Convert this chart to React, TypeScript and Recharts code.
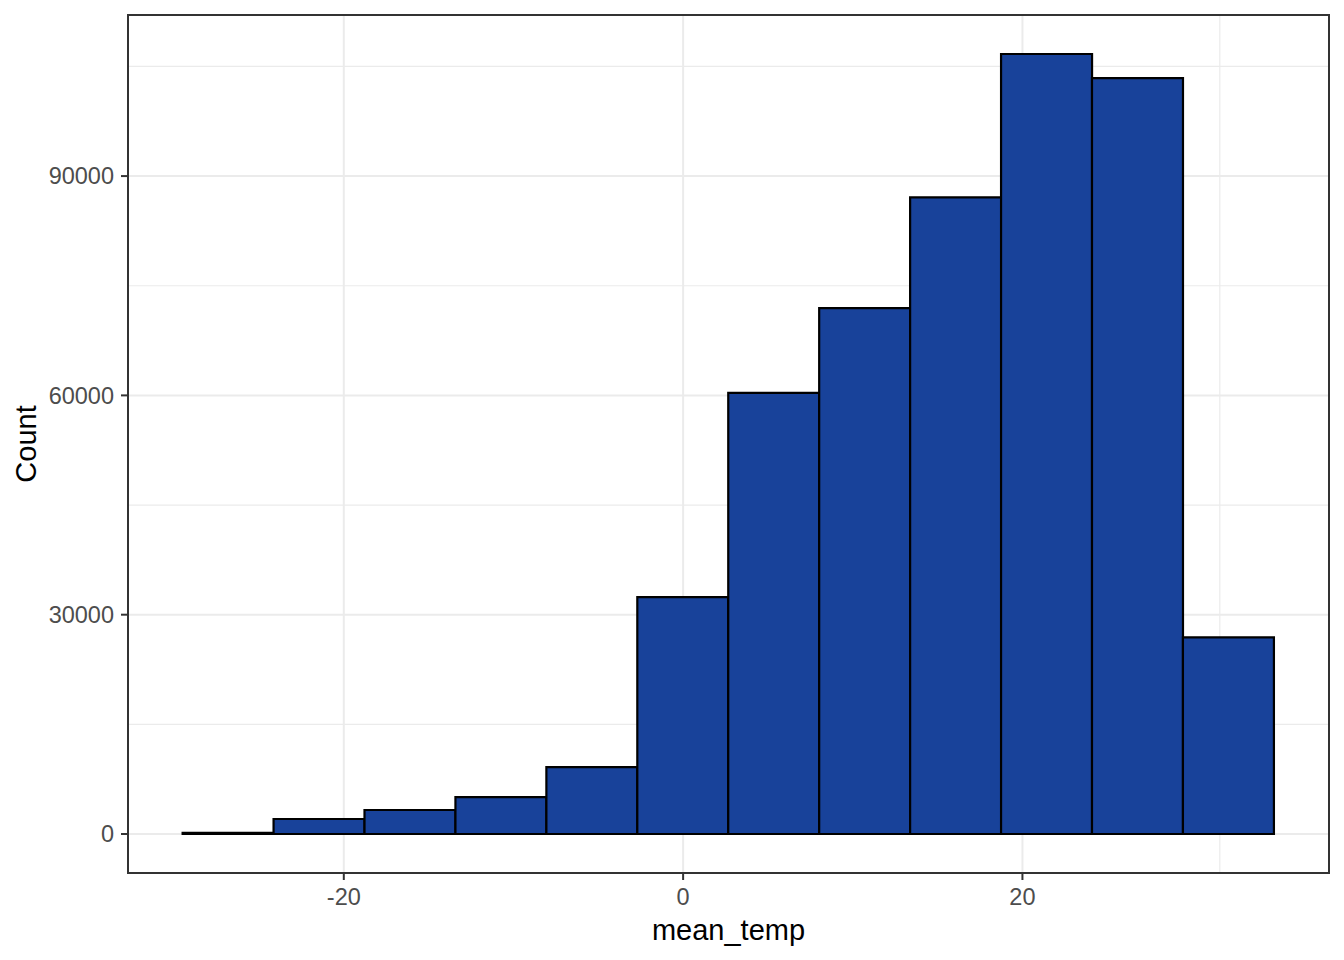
import React from 'react';
import {
  ComposedChart,
  Bar,
  XAxis,
  YAxis,
  CartesianGrid,
  ReferenceArea,
} from 'recharts';

// histogram bins (centres) and counts
const binCenters = [-26.82, -21.46, -16.1, -10.74, -5.38, -0.02, 5.34, 10.7, 16.06, 21.42, 26.78, 32.14];
const counts = [150, 2050, 3280, 5050, 9150, 32400, 60350, 71950, 87100, 106700, 103400, 26900];

const xTicks = [-20, 0, 20];
const xMinor = [-30, -10, 10, 30];
const yTicks = [0, 30000, 60000, 90000];
const yMinor = [15000, 45000, 75000, 105000];

const xDomain = [-32.72, 38.07];
const yDomain = [-5335, 112035];

const data = binCenters.map((x, i) => ({ x, count: counts[i] }));

const FONT = '"Liberation Sans", Arial, sans-serif';
const tickStyle = { fill: '#4D4D4D', fontSize: 23.5, fontFamily: FONT };
const tickLine = { stroke: '#333333', strokeWidth: 2 };

const App: React.FC = () => {
  return (
    <div style={{ position: 'absolute', left: 0, top: 0, width: 1344, height: 960, background: '#fff' }}>
      <ComposedChart
        width={1344}
        height={960}
        data={data}
        margin={{ top: 15, right: 15, left: 0, bottom: 0 }}
        barCategoryGap={0}
        barGap={0}
        style={{ fontFamily: FONT }}
      >
        <XAxis
          xAxisId="x"
          dataKey="x"
          type="number"
          domain={xDomain}
          allowDataOverflow
          ticks={xTicks}
          height={87}
          tick={tickStyle}
          tickLine={tickLine}
          tickSize={7}
          tickMargin={8}
          axisLine={false}
          label={{ value: 'mean_temp', position: 'insideBottom', offset: 20, fill: '#000', fontSize: 29, fontFamily: FONT }}
        />
        {/* hidden axis only used for the minor grid lines */}
        <XAxis
          xAxisId="minor"
          orientation="top"
          type="number"
          domain={xDomain}
          allowDataOverflow
          ticks={xMinor}
          height={0}
          hide
        />
        <YAxis
          yAxisId="y"
          type="number"
          domain={yDomain}
          allowDataOverflow
          ticks={yTicks}
          width={128}
          tick={tickStyle}
          tickLine={tickLine}
          tickSize={7}
          tickMargin={7}
          axisLine={false}
          label={{ value: 'Count', angle: -90, position: 'insideLeft', offset: 26, fill: '#000', fontSize: 29, fontFamily: FONT, textAnchor: 'middle' }}
        />
        <YAxis
          yAxisId="minor"
          orientation="right"
          type="number"
          domain={yDomain}
          allowDataOverflow
          ticks={yMinor}
          width={0}
          hide
        />
        {/* minor grid */}
        <CartesianGrid xAxisId="minor" yAxisId="minor" stroke="#EBEBEB" strokeWidth={1.2} />
        {/* major grid */}
        <CartesianGrid xAxisId="x" yAxisId="y" stroke="#EBEBEB" strokeWidth={2} />
        <Bar
          xAxisId="x"
          yAxisId="y"
          dataKey="count"
          fill="#18429A"
          stroke="#000000"
          strokeWidth={2.2}
          isAnimationActive={false}
        />
        {/* panel border */}
        <ReferenceArea
          xAxisId="x"
          yAxisId="y"
          x1={xDomain[0]}
          x2={xDomain[1]}
          y1={yDomain[0]}
          y2={yDomain[1]}
          fill="none"
          fillOpacity={0}
          stroke="#333333"
          strokeWidth={2}
          ifOverflow="visible"
        />
      </ComposedChart>
    </div>
  );
};

export default App;
